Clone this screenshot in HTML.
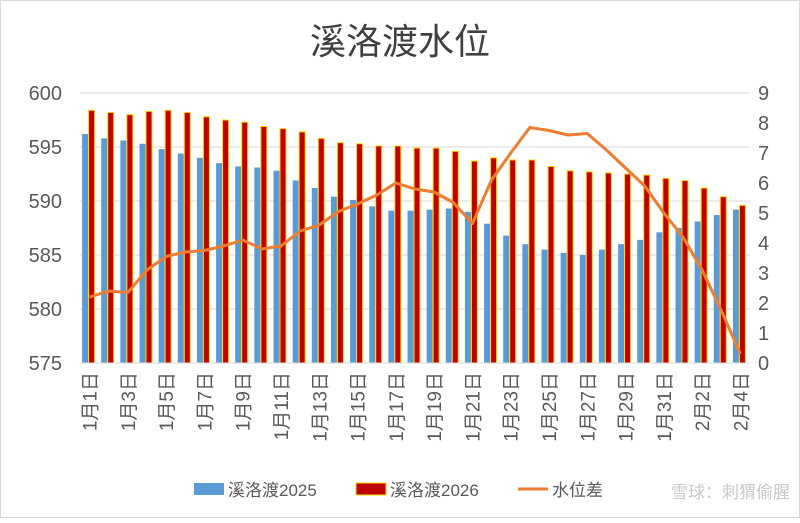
<!DOCTYPE html>
<html><head><meta charset="utf-8"><style>
body{margin:0;background:#fff}
svg text{font-family:"Liberation Sans","Noto Sans CJK SC",sans-serif}
</style></head><body>
<svg width="800" height="518" viewBox="0 0 800 518">
<rect x="0.5" y="0.5" width="799" height="517" fill="#fff" stroke="#d9d9d9"/>
<text x="400" y="54" text-anchor="middle" font-size="36" fill="#404040">溪洛渡水位</text>
<g id="grid"></g><g id="bars"></g><g id="line"></g><g id="axes"></g>
<g>
<rect x="194" y="483" width="30" height="12" fill="#5b9bd5"/>
<text x="228" y="496" font-size="17" fill="#595959">溪洛渡2025</text>
<rect x="356" y="483" width="30" height="12" fill="#c00000" stroke="#ffd700"/>
<text x="390" y="496" font-size="17" fill="#595959">溪洛渡2026</text>
<line x1="518" y1="489" x2="548" y2="489" stroke="#ed7d31" stroke-width="3"/>
<text x="552" y="496" font-size="17" fill="#595959">水位差</text>
</g>
<text x="790" y="498" text-anchor="end" font-size="17" fill="#c8c8c8">雪球：刺猬偷腥</text>
</svg>
<script>
const categories=[];for(let d=1;d<=31;d++)categories.push('1月'+d+'日');for(let d=1;d<=4;d++)categories.push('2月'+d+'日');
const series2025=[596.2,595.8,595.6,595.3,594.8,594.4,594.0,593.5,593.2,593.1,592.8,591.9,591.2,590.4,590.1,589.5,589.1,589.1,589.2,589.3,589.0,587.9,586.8,586.0,585.5,585.2,585.0,585.5,586.0,586.4,587.1,587.5,588.1,588.7,589.2];
const series2026=[598.4,598.2,598.0,598.3,598.4,598.2,597.8,597.5,597.3,596.9,596.7,596.4,595.8,595.4,595.3,595.1,595.1,594.9,594.9,594.6,593.7,594.0,593.8,593.8,593.2,592.8,592.7,592.6,592.5,592.4,592.1,591.9,591.2,590.4,589.6];
const diffValues=[2.2,2.4,2.35,3.1,3.55,3.7,3.75,3.9,4.1,3.8,3.9,4.4,4.6,5.05,5.3,5.6,6.0,5.8,5.7,5.35,4.65,6.1,7.0,7.85,7.75,7.6,7.65,7.1,6.5,5.9,5.0,4.2,3.1,1.75,0.3];
const leftTicks=[575,580,585,590,595,600];
const rightTicks=[0,1,2,3,4,5,6,7,8,9];
const NS='http://www.w3.org/2000/svg';
const X0=80,X1=750,Y0=363,Y1=93;
const bw=(X1-X0)/categories.length;
const xc=i=>X0+(i+0.5)*bw;
const yL=v=>Y0-(v-575)/(600-575)*(Y0-Y1);
const yR=v=>Y0-v/9*(Y0-Y1);
function mk(tag,attrs,parent){const e=document.createElementNS(NS,tag);for(const k in attrs)e.setAttribute(k,attrs[k]);document.getElementById(parent).appendChild(e);return e;}
leftTicks.forEach(t=>{
 const g=mk('line',{x1:X0,x2:X1,y1:yL(t),y2:yL(t),stroke:'#d9d9d9','stroke-width':1},'grid');
 
 
 const tx=mk('text',{x:62,y:yL(t)+7,'text-anchor':'end','font-size':20,fill:'#595959'},'axes');tx.textContent=t;
 
 
});
rightTicks.forEach(t=>{
 const tx=mk('text',{x:758,y:yR(t)+7,'font-size':20,fill:'#595959'},'axes');tx.textContent=t;
 
 
});
categories.forEach((c,i)=>{
 const x=xc(i);
 const b=mk('rect',{x:x-7.5,y:yL(series2025[i]),width:6,height:Y0-yL(series2025[i]),fill:'#5b9bd5'},'bars');
 
 
 const r=mk('rect',{x:x-1,y:yL(series2026[i]),width:6,height:Y0-yL(series2026[i]),fill:'#c00000',stroke:'#ffd700','stroke-width':1},'bars');
 
 
 if(i%2===0){
  const tx=mk('text',{x:0,y:0,'font-size':19,fill:'#595959','text-anchor':'end',transform:`translate(${x+7},372) rotate(-90)`},'axes');tx.textContent=c;
  
  
 }
});
const ax=mk('line',{x1:X0,x2:X1,y1:Y0,y2:Y0,stroke:'#d9d9d9'},'axes');


const pts=diffValues.map((v,i)=>xc(i)+','+yR(v)).join(' ');
const pl=mk('polyline',{points:pts,fill:'none',stroke:'#ed7d31','stroke-width':3,'stroke-linejoin':'round'},'line');


</script>
</body></html>
